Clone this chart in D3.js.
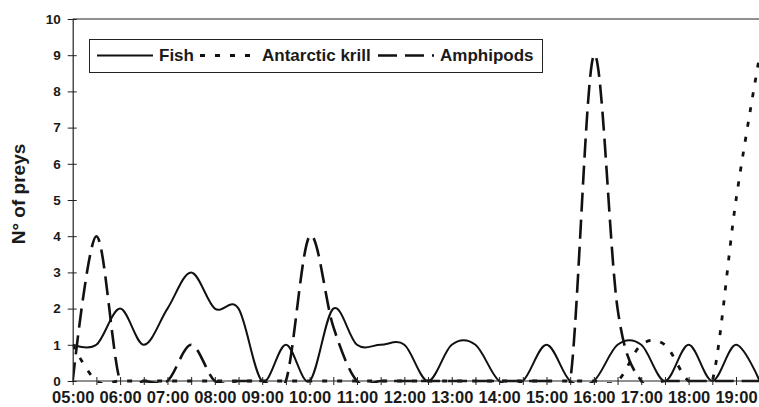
<!DOCTYPE html>
<html>
<head>
<meta charset="utf-8">
<script src="https://cdn.jsdelivr.net/npm/d3@7"></script>
<style>
  body { margin: 0; background: #fff; }
  text { font-family: "Liberation Sans", Arial, sans-serif; font-weight: bold; fill: #1a1a1a; }
</style>
</head>
<body>
<svg width="759" height="407"></svg>
<script>
// half-hour sampling times
var times = ["05:00", "05:30", "06:00", "06:30", "07:00", "07:30", "08:00", "08:30",
             "09:00", "09:30", "10:00", "10:30", "11:00", "11:30", "12:00", "12:30",
             "13:00", "13:30", "14:00", "14:30", "15:00", "15:30", "16:00", "16:30",
             "17:00", "17:30", "18:00", "18:30", "19:00", "19:30"];

// only the full hours get a label
var tickLabels = ["05:00", "06:00", "07:00", "08:00", "09:00", "10:00", "11:00", "12:00",
                  "13:00", "14:00", "15:00", "16:00", "17:00", "18:00", "19:00"];

var yTicks = [0, 1, 2, 3, 4, 5, 6, 7, 8, 9, 10];

var seriesNames = ["Fish", "Antarctic krill", "Amphipods"];

var fish = [1, 1, 2, 1, 2, 3, 2, 2, 0, 1, 0, 2, 1, 1, 1, 0, 1, 1, 0, 0,
            1, 0, 0, 1, 1, 0, 1, 0, 1, 0];
var krill = [1, 0, 0, 0, 0, 0, 0, 0, 0, 0, 0, 0, 0, 0, 0, 0, 0, 0, 0, 0,
             0, 0, 0, 0, 1, 1, 0, 0, 5, 9];
var amphipods = [0, 4, 0, 0, 0, 1, 0, 0, 0, 0, 4, 1.5, 0, 0, 0, 0, 0, 0, 0, 0,
                 0, 0, 9, 2, 0, 0, 0, 0, 0, 0];

function main() {
    var svg = d3.select("svg");

    var left = 72.7, right = 759.7, top = 19, bottom = 381;

    var x = d3.scalePoint().domain(times).range([left, right]);
    var y = d3.scaleLinear().domain([0, 10]).range([bottom, top]);

    // clip the smoothed curves to the plot area (a bit of room below zero for the stroke)
    svg.append("clipPath").attr("id", "plot")
        .append("rect")
        .attr("x", left).attr("y", top)
        .attr("width", right - left).attr("height", bottom - top + 2);

    // top border of the plot area
    svg.append("line")
        .attr("x1", left).attr("x2", 759)
        .attr("y1", top).attr("y2", top)
        .attr("stroke", "#222").attr("stroke-width", 1);

    var line = d3.line()
        .x(function(d, i) { return x(times[i]); })
        .y(function(d) { return y(d); })
        .curve(d3.curveCatmullRom.alpha(0));

    var styles = [
        { data: fish, dash: null, width: 2 },
        { data: krill, dash: "5,10", width: 2.8 },
        { data: amphipods, dash: "19,8", width: 2.6 }
    ];

    var g = svg.append("g").attr("clip-path", "url(#plot)");
    styles.forEach(function(s) {
        g.append("path")
            .attr("d", line(s.data))
            .attr("fill", "none")
            .attr("stroke", "#111")
            .attr("stroke-width", s.width)
            .attr("stroke-dasharray", s.dash);
    });

    // y axis
    var yAxis = svg.append("g").attr("transform", "translate(" + left + ",0)")
        .call(d3.axisLeft(y).tickValues(yTicks).tickSize(0).tickPadding(12));
    yAxis.select(".domain").attr("stroke", "#222").attr("stroke-width", 1.2);
    yAxis.selectAll(".tick text").style("font-size", "13.5px").attr("fill", "#1a1a1a");
    yAxis.selectAll(".tick").append("line")
        .attr("x1", -5).attr("x2", 4)
        .attr("stroke", "#222");

    // x axis: ticks every half hour, labels every hour
    var xAxis = svg.append("g").attr("transform", "translate(0," + bottom + ")")
        .call(d3.axisBottom(x).tickSize(0).tickPadding(10)
            .tickFormat(function(d) { return tickLabels.indexOf(d) >= 0 ? d : ""; }));
    xAxis.select(".domain").attr("stroke", "#222").attr("stroke-width", 1.2)
        .attr("d", "M" + left + ",0H" + right);
    xAxis.selectAll(".tick text").style("font-size", "16.5px").attr("fill", "#1a1a1a");
    xAxis.selectAll(".tick").append("line")
        .attr("y1", -4).attr("y2", 4)
        .attr("stroke", "#222");

    svg.append("text")
        .attr("transform", "translate(25,194) rotate(-90)")
        .attr("text-anchor", "middle")
        .style("font-size", "19px")
        .text("N° of preys");

    // legend
    var legend = svg.append("g");
    legend.append("rect")
        .attr("x", 89.5).attr("y", 39.5)
        .attr("width", 453).attr("height", 33)
        .attr("fill", "#fff").attr("stroke", "#222");

    var legendX = [97, 200, 378];
    seriesNames.forEach(function(name, i) {
        legend.append("line")
            .attr("x1", legendX[i]).attr("x2", legendX[i] + 56)
            .attr("y1", 55.5).attr("y2", 55.5)
            .attr("stroke", "#111")
            .attr("stroke-width", styles[i].width)
            .attr("stroke-dasharray", styles[i].dash);
        legend.append("text")
            .attr("x", legendX[i] + 62).attr("y", 61)
            .style("font-size", "17px")
            .text(name);
    });
}

main();
</script>
</body>
</html>
